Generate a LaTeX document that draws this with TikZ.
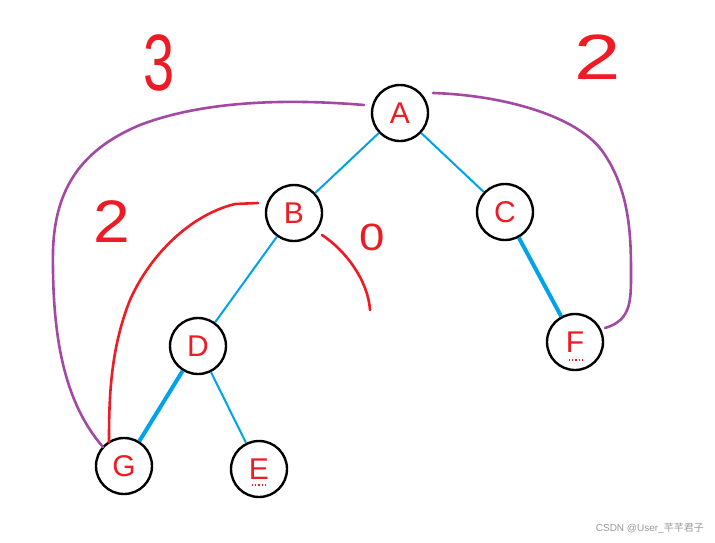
\documentclass[tikz,border=0pt]{standalone}
\usepackage{fontspec}
\setmainfont{Liberation Sans}
\newfontfamily\cjk{Noto Sans CJK SC}
\definecolor{pred}{HTML}{ED1C24}
\definecolor{pblue}{HTML}{00A2E8}
\definecolor{ppurple}{HTML}{A349A4}
\tikzset{
  vert/.style={circle, draw=black, line width=2.4pt, minimum size=56pt, inner sep=0pt, text=pred, font=\fontsize{30}{30}\selectfont},
  tedge/.style={pblue, line width=2pt},
  thick edge/.style={pblue, line width=4pt},
  purp/.style={ppurple, line width=2.6pt, line cap=round, line join=round},
  redc/.style={pred, line width=2.6pt, line cap=round, line join=round},
  digit/.style={text=pred, inner sep=0pt},
  squig/.style={pred, line width=1.2pt, dotted},
}
\begin{document}
\begin{tikzpicture}[x=1pt,y=-1pt]
\useasboundingbox (0,0) rectangle (715,542);
\fill[white] (0,0) rectangle (715,542);
% nodes
\node[vert] (A) at (400,113) {A};
\node[vert] (B) at (294,213) {B};
\node[vert] (C) at (505,212) {C};
\node[vert] (D) at (198,346) {D};
\node[vert] (E) at (259,469) {E};
\node[vert] (F) at (575,342) {F};
\node[vert] (G) at (124,466) {G};
% squiggly underlines
\draw[squig] (569,360) -- (583,360);
\draw[squig] (252,485) -- (266,485);
% tree edges
\draw[tedge] (A) -- (B);
\draw[tedge] (A) -- (C);
\draw[tedge] (B) -- (D);
\draw[tedge] (D) -- (E);
\draw[thick edge] (C) -- (F);
\draw[thick edge] (D) -- (G);
% purple curves
\coordinate (pa) at (364,105);
\coordinate (pb) at (433,93);
\coordinate (pg) at (103,447);
\coordinate (pf) at (605,328);
\draw[purp] (pa) .. controls (280,98) and (200,102) .. (140,125)
  .. controls (80,150) and (55,190) .. (53,250)
  .. controls (52,330) and (62,400) .. (pg);
\draw[purp] (pb) .. controls (500,95) and (580,115) .. (605,155)
  .. controls (628,190) and (631,230) .. (631,270)
  .. controls (631,300) and (632,320) .. (pf);
% red curves
\coordinate (rb) at (258,203);
\coordinate (rg) at (109,442);
\draw[redc] (rb) -- (235,204) .. controls (190,215) and (150,255) .. (130,300)
  .. controls (110,350) and (109,400) .. (rg);
\coordinate (rc1) at (322,235);
\coordinate (rc2) at (370,310);
\draw[redc] (rc1) .. controls (345,250) and (368,280) .. (rc2);
% digits
\node[digit, font=\fontsize{80}{80}\selectfont, xscale=0.7] (n3) at (159,63) {3};
\node[digit, font=\fontsize{64}{64}\selectfont, xscale=1.3] (n2a) at (598,57) {2};
\node[digit, font=\fontsize{60}{60}\selectfont, xscale=1.1] (n2b) at (112,222) {2};
\node[digit, font=\fontsize{38}{38}\selectfont, xscale=1.2] (n0) at (372,237) {0};
% watermark
\node[text=black!40, font=\fontsize{10}{10}\selectfont, anchor=east, inner sep=0pt] (wm) at (704,528) {CSDN @User\_{\cjk 芊芊君子}};
\end{tikzpicture}
\end{document}
